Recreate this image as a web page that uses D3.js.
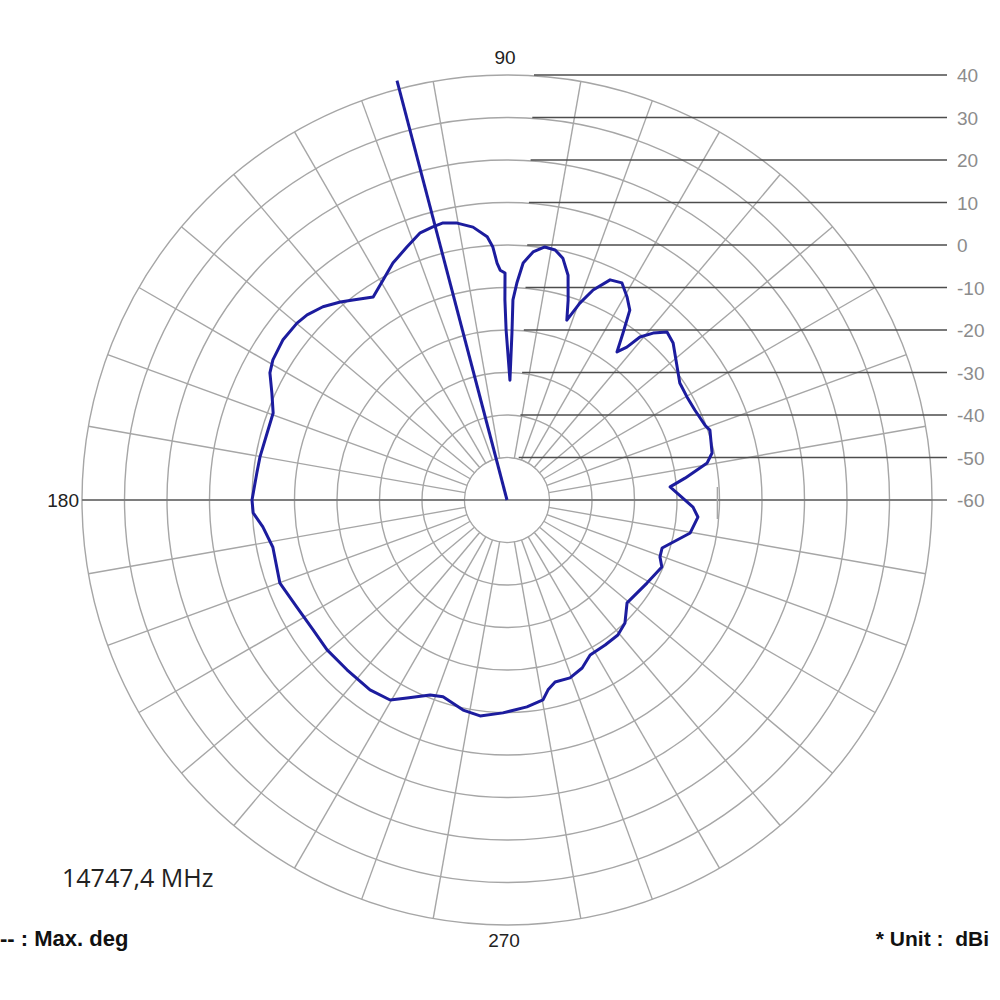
<!DOCTYPE html>
<html>
<head>
<meta charset="utf-8">
<script src="https://cdn.jsdelivr.net/npm/d3@7"></script>
<style>
  html, body { margin: 0; padding: 0; background: #fff; }
  svg { display: block; }
  text.pre { white-space: pre; }
</style>
</head>
<body>
<svg id="chart" width="1000" height="1000"></svg>
<script>
// ---- data ----
const gainTicks = [40, 30, 20, 10, 0, -10, -20, -30, -40, -50, -60];
const spokeAngles = d3.range(0, 360, 10).filter(a => a !== 90 && a !== 270);
const angleLabels = ["90", "180", "270"];
const angleLabelDeg = [90, 180, 270];
const maxDeg = 104.7;
const freqText = "14747,4 MHz";
const legendText = "-- : Max. deg";
const unitText = "* Unit :  dBi";

const patternAngle = [2.4, 4.6, 7.0, 10.5, 12.9, 19.0, 20.7, 25.6, 29.8, 34.1, 38.0, 43.4, 46.4, 48.8, 50.8, 51.9, 53.4, 55.2, 57.1, 59.4, 62.1, 64.9, 67.7, 69.7, 71.6, 73.0, 74.8, 77.0, 79.1, 81.5, 84.0, 86.1, 87.4, 88.3, 88.3, 88.6, 90.3, 90.6, 90.5, 91.7, 92.4, 93.2, 94.3, 97.1, 100.2, 103.0, 105.2, 108.0, 111.6, 115.7, 119.4, 123.4, 127.6, 130.1, 133.6, 137.2, 139.9, 144.5, 149.1, 151.8, 155.5, 159.6, 164.4, 170.1, 173.8, 180.0, 182.9, 186.3, 191.4, 200.1, 207.0, 213.8, 219.8, 226.7, 234.2, 239.7, 243.2, 248.5, 252.0, 258.2, 262.9, 268.9, 275.5, 280.2, 282.2, 284.8, 289.5, 294.1, 298.2, 304.1, 309.4, 313.8, 319.4, 329.3, 336.6, 339.6, 342.8, 349.8, 354.9, 357.8];
const patternGain = [-20.0, -21.5, -17.8, -12.1, -10.5, -9.5, -10.2, -11.0, -11.2, -10.9, -9.2, -6.2, -5.4, -7.8, -10.5, -14.3, -16.6, -12.2, -6.8, -4.5, -2.2, -2.8, -6.6, -10.6, -15.4, -10.8, -5.2, -1.6, -0.1, 0.2, -1.3, -4.1, -8.9, -12.9, -20.7, -31.8, -20.0, -12.9, -6.6, -5.9, -4.2, -0.4, 2.1, 4.7, 6.2, 6.9, 6.6, 6.1, 4.0, 1.9, -0.6, -2.8, -0.6, 0.9, 2.8, 4.1, 4.6, 4.8, 4.2, 3.3, 0.8, -1.3, -1.4, -1.0, -0.8, 0.0, -0.2, -2.2, -3.8, -3.1, -4.5, -5.1, -4.9, -5.1, -4.9, -5.5, -7.8, -10.7, -11.3, -9.5, -8.8, -9.9, -11.1, -12.2, -14.3, -15.7, -15.6, -16.7, -18.6, -18.8, -18.9, -19.9, -22.8, -21.7, -20.3, -21.6, -21.8, -16.2, -14.9, -16.2];

// ---- layout ----
const cx = 507, cy = 500;
const r = d3.scaleLinear().domain([-60, 40]).range([0, 425]);
const rad = d => d * Math.PI / 180;
const px = (deg, g) => cx + r(g) * Math.cos(rad(deg));
const py = (deg, g) => cy - r(g) * Math.sin(rad(deg));

const svg = d3.select("#chart");
const grid = svg.append("g");
const gridColor = "#a6a6a6";

// rings
const ringVals = gainTicks.filter(v => v > -60);
grid.selectAll("circle.ring").data(ringVals).join("circle")
  .attr("cx", cx).attr("cy", cy).attr("r", d => r(d))
  .attr("fill", "none").attr("stroke", gridColor).attr("stroke-width", 1.4);

// spokes
const rInner = r(-50), rOuter = r(40);
grid.selectAll("line.spoke").data(spokeAngles).join("line")
  .attr("x1", d => cx + rInner * Math.cos(rad(d)))
  .attr("y1", d => cy - rInner * Math.sin(rad(d)))
  .attr("x2", d => cx + rOuter * Math.cos(rad(d)))
  .attr("y2", d => cy - rOuter * Math.sin(rad(d)))
  .attr("stroke", gridColor).attr("stroke-width", 1.4);

// white inner hole
grid.append("circle").attr("cx", cx).attr("cy", cy).attr("r", rInner - 1)
  .attr("fill", "#fff").attr("stroke", "none");

// horizontal 0-180 axis line
const labelLineEnd = 947;
grid.append("line")
  .attr("x1", cx - rOuter).attr("x2", labelLineEnd)
  .attr("y1", cy).attr("y2", cy)
  .attr("stroke", "#6a6a6a").attr("stroke-width", 1.6);

// small tick artifact on the 0° axis
grid.append("line")
  .attr("x1", px(0, -10.5)).attr("x2", px(0, -10.5))
  .attr("y1", cy - 13).attr("y2", cy + 19)
  .attr("stroke", gridColor).attr("stroke-width", 1.4);

// gain label lines
const hl = gainTicks.filter(v => v > -60);
grid.selectAll("line.hl").data(hl).join("line")
  .attr("x1", d => cx + 10 + r(d) * 0.04)
  .attr("x2", labelLineEnd)
  .attr("y1", d => cy - r(d)).attr("y2", d => cy - r(d))
  .attr("stroke", "#4d4d4d").attr("stroke-width", 1.7);

// gain labels
svg.selectAll("text.gl").data(gainTicks).join("text")
  .attr("x", 957).attr("y", d => cy - r(d) + 7)
  .attr("font-family", "Liberation Sans, Arial, sans-serif")
  .attr("font-size", 19).attr("fill", "#8c8c8c")
  .text(d => d);

// angle labels
const angleFont = "Liberation Sans, Arial, sans-serif";
svg.append("text").attr("x", cx - 2).attr("y", 64).attr("text-anchor", "middle")
  .attr("font-family", angleFont).attr("font-size", 19).attr("fill", "#222")
  .text(angleLabels[0]);
svg.append("text").attr("x", cx - rOuter - 3).attr("y", cy + 7).attr("text-anchor", "end")
  .attr("font-family", angleFont).attr("font-size", 19).attr("fill", "#222")
  .text(angleLabels[1]);
svg.append("text").attr("x", cx - 3).attr("y", 947).attr("text-anchor", "middle")
  .attr("font-family", angleFont).attr("font-size", 19).attr("fill", "#222")
  .text(angleLabels[2]);

// pattern
const pts = patternAngle.map((a, i) => [a, patternGain[i]]);
const line = d3.line()
  .x(d => px(d[0], d[1]))
  .y(d => py(d[0], d[1]))
  .curve(d3.curveLinearClosed);
svg.append("path").datum(pts).attr("d", line)
  .attr("fill", "none").attr("stroke", "#1c1c9e").attr("stroke-width", 3)
  .attr("stroke-linejoin", "round");

// max direction line
svg.append("line")
  .attr("x1", cx).attr("y1", cy)
  .attr("x2", px(maxDeg, 42)).attr("y2", py(maxDeg, 42))
  .attr("stroke", "#1c1c9e").attr("stroke-width", 3);

// texts
svg.append("text").attr("x", 62).attr("y", 887)
  .attr("font-family", "Open Sans, sans-serif").attr("font-size", 25).attr("fill", "#222")
  .text(freqText);
svg.append("text").attr("class", "pre").attr("x", 0).attr("y", 946)
  .attr("font-family", "Liberation Sans, Arial, sans-serif").attr("font-weight", "bold")
  .attr("font-size", 22).attr("fill", "#111")
  .text(legendText);
svg.append("text").attr("class", "pre").attr("x", 989).attr("y", 946).attr("text-anchor", "end")
  .attr("font-family", "Liberation Sans, Arial, sans-serif").attr("font-weight", "bold")
  .attr("font-size", 21).attr("fill", "#111")
  .text(unitText);
</script>
</body>
</html>
